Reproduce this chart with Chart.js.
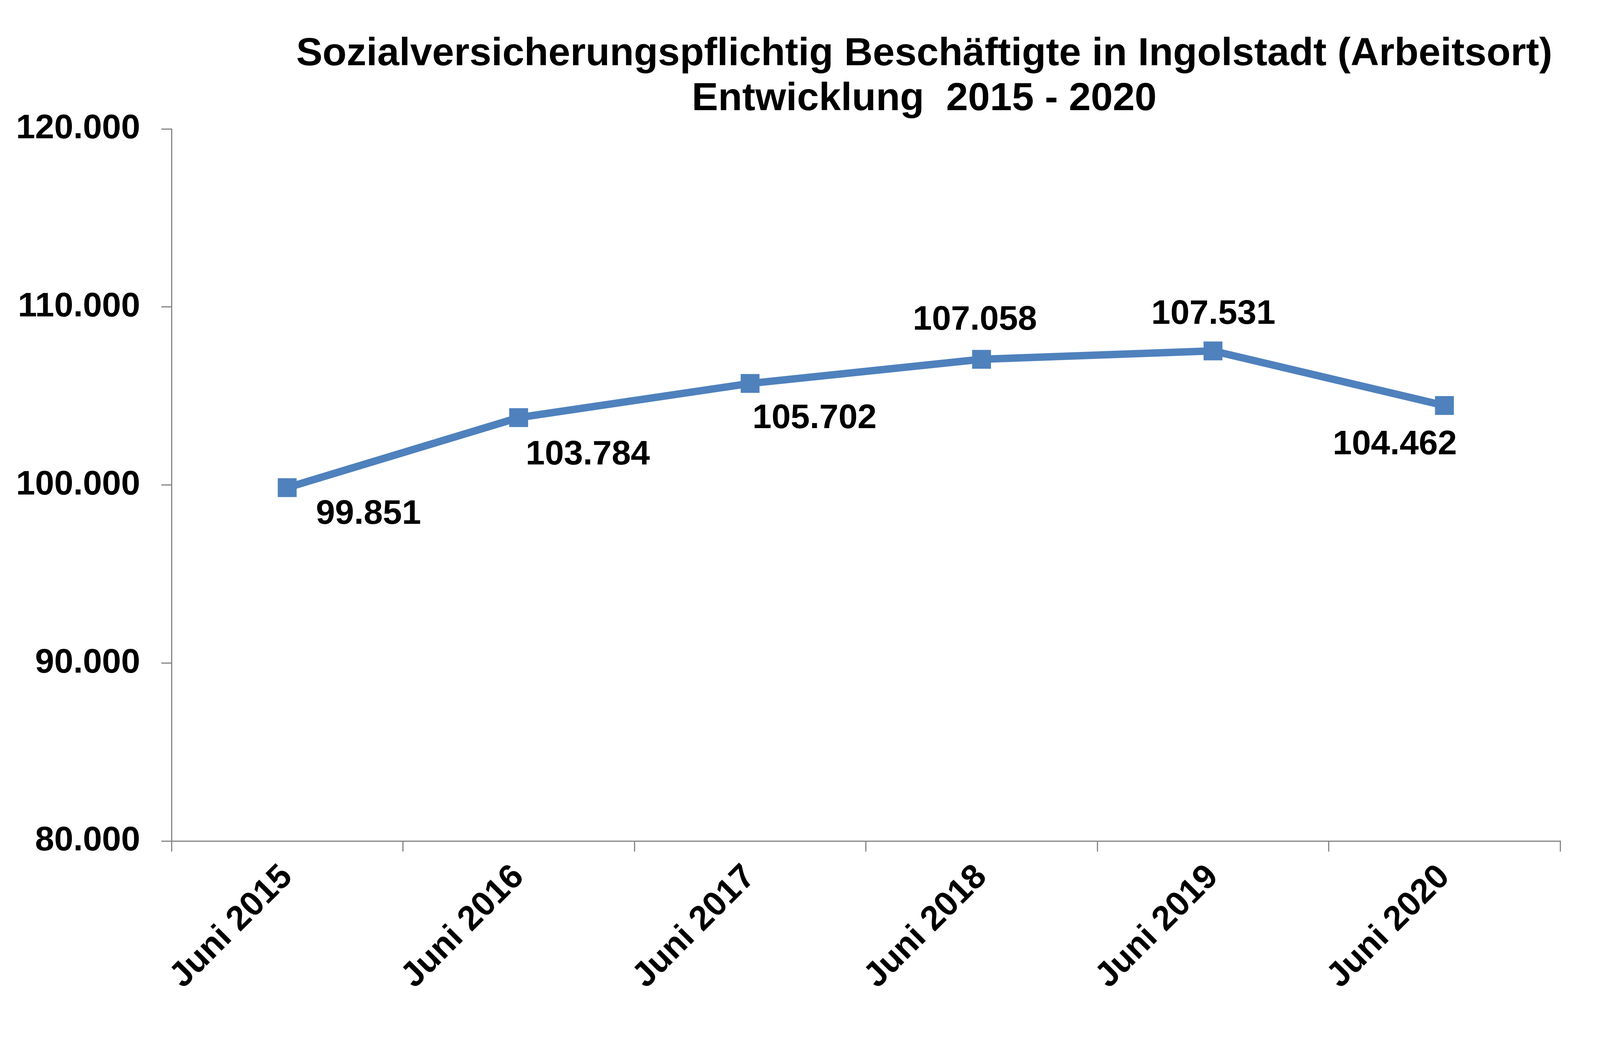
<!DOCTYPE html>
<html>
<head>
<meta charset="utf-8">
<script src="https://cdn.jsdelivr.net/npm/chart.js@4.4.1/dist/chart.umd.min.js"></script>
<style>
  html, body { margin: 0; padding: 0; background: #ffffff; }
  #wrap { width: 4119px; height: 2665px; position: relative; }
</style>
</head>
<body>
<div id="wrap"><canvas id="c"></canvas></div>
<script>
// ---- data ----
const titleLines = ['Sozialversicherungspflichtig Beschäftigte in Ingolstadt (Arbeitsort)', 'Entwicklung  2015 - 2020'];
const categories = ['Juni 2015', 'Juni 2016', 'Juni 2017', 'Juni 2018', 'Juni 2019', 'Juni 2020'];
const employees = [99851, 103784, 105702, 107058, 107531, 104462];
const yTickValues = [80000, 90000, 100000, 110000, 120000];
const yTickLabels = ['80.000', '90.000', '100.000', '110.000', '120.000'];

// ---- presentation ----
const labelOffsets = [[208, 68], [177, 96], [165, 90], [-17, -100], [1, -94], [-127, 101]];
const FONT = '"Liberation Sans", Arial, Helvetica, sans-serif';
const BLUE = '#4F81BD';
const AXIS = '#868686';

function fmt(v) {
  return Math.round(v).toString().replace(/\B(?=(\d{3})+(?!\d))/g, '.');
}

const titlePlugin = {
  id: 'twoLineTitle',
  afterDraw(chart, args, opts) {
    const ctx = chart.ctx;
    ctx.save();
    ctx.fillStyle = '#000';
    ctx.font = 'bold ' + opts.size + 'px ' + FONT;
    ctx.textAlign = 'center';
    ctx.textBaseline = 'alphabetic';
    opts.lines.forEach((t, i) => ctx.fillText(t, opts.x, opts.baseline + i * opts.lineGap));
    ctx.restore();
  }
};

const valueLabelPlugin = {
  id: 'valueLabels',
  afterDatasetsDraw(chart, args, opts) {
    const ctx = chart.ctx;
    const meta = chart.getDatasetMeta(0);
    ctx.save();
    ctx.fillStyle = '#000';
    ctx.font = 'bold ' + opts.size + 'px ' + FONT;
    ctx.textAlign = 'center';
    ctx.textBaseline = 'middle';
    meta.data.forEach((pt, i) => {
      const off = opts.offsets[i] || [0, 0];
      ctx.fillText(fmt(chart.data.datasets[0].data[i]), pt.x + off[0], pt.y + off[1]);
    });
    ctx.restore();
  }
};

new Chart(document.getElementById('c'), {
  type: 'line',
  data: {
    labels: categories,
    datasets: [{
      data: employees,
      borderColor: BLUE,
      backgroundColor: BLUE,
      borderWidth: 19,
      pointStyle: 'rect',
      pointRadius: 32,
      pointHoverRadius: 32,
      pointBorderWidth: 3,
      pointBorderColor: BLUE,
      pointBackgroundColor: BLUE,
      tension: 0,
      clip: false
    }]
  },
  options: {
    responsive: true,
    maintainAspectRatio: false,
    animation: false,
    devicePixelRatio: 1,
    layout: { padding: { top: 330, right: 125, bottom: 0, left: 0 } },
    plugins: {
      legend: { display: false },
      title: { display: false },
      tooltip: { enabled: false },
      twoLineTitle: { lines: titleLines, x: 2366, baseline: 167, lineGap: 115, size: 101 },
      valueLabels: { offsets: labelOffsets, size: 88 }
    },
    scales: {
      x: {
        type: 'category',
        offset: true,
        grid: { offset: true, drawOnChartArea: false, drawTicks: true, tickLength: 27, color: AXIS, lineWidth: 3 },
        border: { display: true, color: AXIS, width: 3 },
        ticks: {
          color: '#000',
          font: { family: FONT, size: 88, weight: 'bold' },
          maxRotation: 45,
          minRotation: 45,
          padding: 14,
          autoSkip: false
        },
        afterFit(scale) { scale.height = 512; }
      },
      y: {
        min: 80000,
        max: 120000,
        afterBuildTicks(scale) { scale.ticks = yTickValues.map(v => ({ value: v })); },
        grid: { drawOnChartArea: false, drawTicks: true, tickLength: 26, color: AXIS, lineWidth: 3 },
        border: { display: true, color: AXIS, width: 3 },
        ticks: {
          color: '#000',
          font: { family: FONT, size: 88, weight: 'bold' },
          padding: 54,
          callback(value) {
            const i = yTickValues.indexOf(value);
            return i >= 0 ? yTickLabels[i] : fmt(value);
          }
        },
        afterFit(scale) { scale.width = 439; }
      }
    }
  },
  plugins: [titlePlugin, valueLabelPlugin]
});
</script>
</body>
</html>
